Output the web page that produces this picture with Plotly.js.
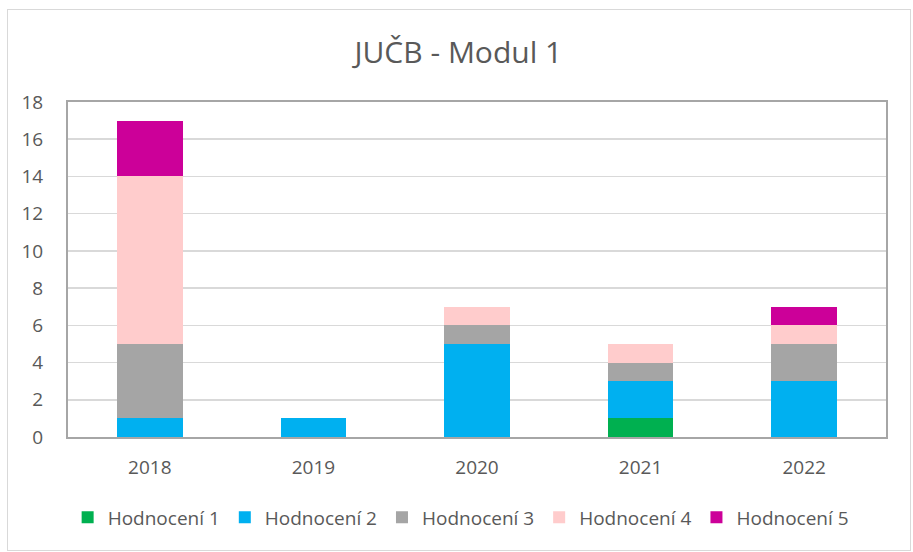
<!DOCTYPE html>
<html>
<head>
<meta charset="utf-8">
<script src="https://cdn.plot.ly/plotly-3.0.1.min.js"></script>
<style>
html,body{margin:0;padding:0;background:#fff;}
#wrap{position:relative;width:913px;height:552px;}
#chart{width:913px;height:552px;}
#frame{position:absolute;left:7px;top:9px;width:902px;height:540px;border:1px solid #D9D9D9;pointer-events:none;}
</style>
</head>
<body>
<div id="wrap"><div id="chart"></div><div id="frame"></div></div>
<script>
const years = ['2018','2019','2020','2021','2022'];
const seriesNames = ['Hodnocení 1','Hodnocení 2','Hodnocení 3','Hodnocení 4','Hodnocení 5'];
const h1 = [0,0,0,1,0];
const h2 = [1,1,5,2,3];
const h3 = [4,0,1,1,2];
const h4 = [9,0,1,1,1];
const h5 = [3,0,0,0,1];
const yTicks = [0,2,4,6,8,10,12,14,16,18];

const colors = ['#00B050','#00B0F0','#A5A5A5','#FFCCCC','#CC0099'];
const values = [h1,h2,h3,h4,h5];
const traces = values.map((v,i)=>({
  type:'bar', x:years, y:v, name:seriesNames[i],
  marker:{color:colors[i], line:{width:0}},
  hoverinfo:'x+y+name'
}));
const font = 'Open Sans';
const layout = {
  width:913, height:552,
  margin:{l:68, r:27, t:102, b:115},
  barmode:'stack', bargap:0.6,
  paper_bgcolor:'#fff', plot_bgcolor:'#fff',
  font:{family:font, color:'#595959', size:19},
  title:{text:'JUČB - Modul 1', x:0.502, xanchor:'center', y:0.905, yanchor:'middle', font:{size:30, color:'#595959', family:font}},
  xaxis:{type:'category', tickvals:years, ticktext:years, showline:true, mirror:true, linecolor:'#A6A6A6', linewidth:2, ticks:'', showgrid:false, tickfont:{size:19, family:font, color:'#595959'}, ticklabelstandoff:12},
  yaxis:{range:[0,18], tickvals:yTicks, ticktext:yTicks.map(String), showline:true, mirror:true, linecolor:'#A6A6A6', linewidth:2, gridcolor:'#D9D9D9', gridwidth:1.5, zeroline:false, ticks:'', tickfont:{size:19, family:font, color:'#595959'}, ticklabelstandoff:19},
  legend:{orientation:'h', x:0.48, xanchor:'center', y:-0.24, yanchor:'middle', font:{size:19, color:'#595959', family:font}, traceorder:'normal', itemwidth:30, itemclick:false}
};
Plotly.newPlot('chart', traces, layout, {displayModeBar:false, staticPlot:true});
</script>
</body>
</html>
